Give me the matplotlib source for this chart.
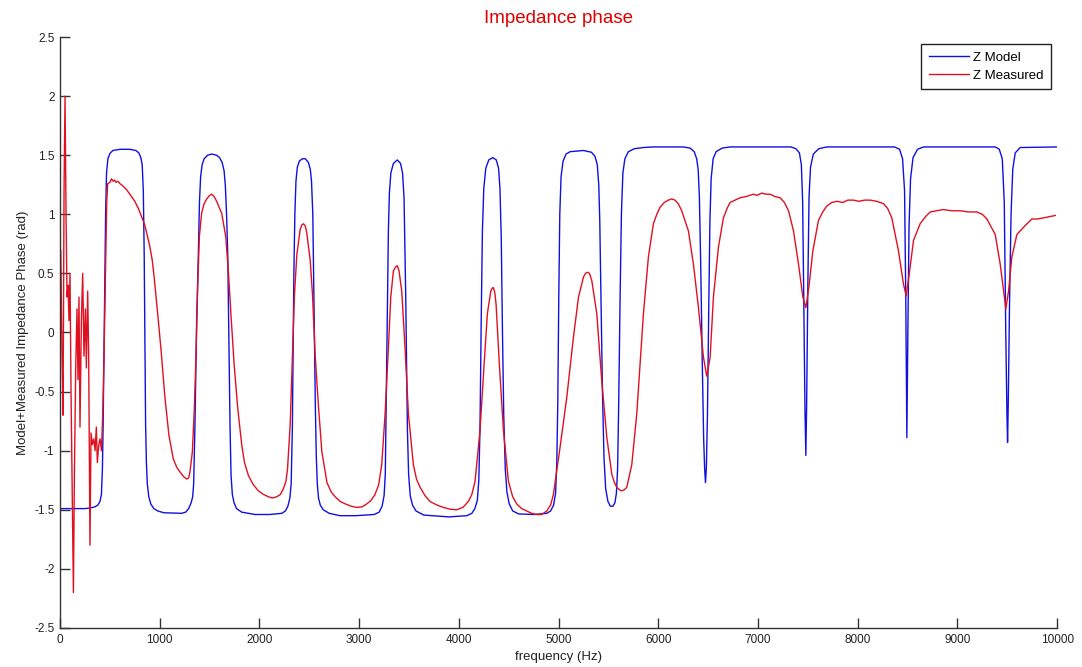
import matplotlib
matplotlib.use("Agg")
import matplotlib.pyplot as plt

# Z Model (blue)
model_freq = [0, 150, 250, 300, 350, 380, 400, 415, 425, 432, 440, 449, 457, 466, 480, 500, 530,
              600, 700, 760, 790, 810, 824, 835, 844, 858, 866, 875, 890, 910, 940, 980, 1040,
              1219, 1260, 1290, 1315, 1330, 1340, 1353, 1370, 1387, 1398, 1410, 1425, 1445,
              1480, 1521, 1570, 1600, 1625, 1645, 1658, 1670, 1682, 1695, 1705, 1715, 1728,
              1745, 1770, 1822, 1956, 2100, 2224, 2260, 2285, 2305, 2318, 2330, 2345, 2355,
              2366, 2380, 2400, 2430, 2460, 2490, 2510, 2522, 2535, 2548, 2560, 2570, 2580,
              2592, 2610, 2640, 2700, 2808, 2961, 3150, 3200, 3230, 3250, 3262, 3276, 3293,
              3303, 3318, 3343, 3383, 3415, 3435, 3450, 3467, 3484, 3496, 3512, 3535, 3570,
              3650, 3900, 4079, 4130, 4160, 4185, 4200, 4212, 4224, 4236, 4250, 4270, 4300,
              4340, 4375, 4398, 4412, 4425, 4437, 4450, 4465, 4482, 4505, 4540, 4600, 4750,
              4881, 4920, 4950, 4970, 4982, 4992, 5002, 5012, 5025, 5045, 5075, 5116, 5250,
              5330, 5365, 5388, 5403, 5413, 5425, 5440, 5455, 5472, 5495, 5520, 5545, 5565,
              5580, 5592, 5603, 5617, 5630, 5645, 5665, 5700, 5760, 5850, 5950, 6250, 6320,
              6360, 6385, 6400, 6412, 6425, 6440, 6455, 6465, 6473, 6482, 6493, 6506, 6518,
              6530, 6550, 6580, 6640, 6720, 7330, 7380, 7415, 7435, 7448, 7460, 7472, 7480,
              7488, 7500, 7512, 7527, 7555, 7610, 7690, 8370, 8420, 8450, 8470, 8482, 8493,
              8503, 8515, 8530, 8555, 8600, 8660, 9380, 9420, 9450, 9470, 9485, 9497, 9503,
              9510, 9522, 9538, 9555, 9580, 9630, 10000]
model_phase = [-1.49, -1.49, -1.49, -1.485, -1.475, -1.46, -1.43, -1.37, -1.15, -0.78, -0.2,
               0.38, 1.0, 1.35, 1.47, 1.515, 1.54, 1.55, 1.55, 1.54, 1.52, 1.48, 1.42, 1.2,
               0.66, -0.78, -1.1, -1.28, -1.39, -1.45, -1.49, -1.51, -1.525, -1.53, -1.52,
               -1.49, -1.44, -1.39, -1.28, -0.78, 0.09, 0.66, 1.1, 1.32, 1.42, 1.47, 1.50,
               1.51, 1.50, 1.48, 1.44, 1.37, 1.24, 1.0, 0.66, -0.2, -0.8, -1.21, -1.37, -1.44,
               -1.49, -1.52, -1.54, -1.54, -1.53, -1.51, -1.47, -1.40, -1.28, -0.8, 0.5, 1.0,
               1.28, 1.40, 1.45, 1.47, 1.47, 1.44, 1.38, 1.28, 1.0, 0.2, -0.6, -1.05, -1.28,
               -1.40, -1.46, -1.50, -1.53, -1.55, -1.55, -1.54, -1.52, -1.47, -1.38, -1.2,
               -0.27, 0.86, 1.18, 1.35, 1.43, 1.46, 1.43, 1.35, 1.14, 0.30, -0.83, -1.2, -1.38,
               -1.46, -1.51, -1.545, -1.56, -1.55, -1.53, -1.49, -1.42, -1.25, -0.8, 0.1, 0.86,
               1.22, 1.39, 1.46, 1.48, 1.46, 1.39, 1.22, 0.8, 0.02, -0.7, -1.15, -1.35, -1.45,
               -1.51, -1.535, -1.54, -1.53, -1.51, -1.46, -1.36, -1.1, -0.6, 0.30, 1.0, 1.32,
               1.45, 1.51, 1.53, 1.54, 1.525, 1.49, 1.42, 1.25, 0.95, 0.3, -0.5, -1.05, -1.32,
               -1.43, -1.47, -1.47, -1.44, -1.36, -1.15, -0.6, 0.30, 1.0, 1.35, 1.47, 1.53,
               1.555, 1.565, 1.57, 1.57, 1.56, 1.53, 1.47, 1.38, 1.15, 0.6, -0.2, -0.9, -1.15,
               -1.27, -1.15, -0.7, 0.2, 0.95, 1.3, 1.47, 1.53, 1.56, 1.57, 1.57, 1.555, 1.52,
               1.42, 1.1, 0.2, -0.7, -1.04, -0.6, 0.4, 1.15, 1.4, 1.51, 1.555, 1.57, 1.57,
               1.55, 1.47, 1.2, 0.3, -0.89, 0.0, 0.9, 1.3, 1.48, 1.55, 1.57, 1.57, 1.55, 1.47,
               1.1, 0.0, -0.7, -0.93, -0.6, 0.2, 1.0, 1.38, 1.52, 1.565, 1.57]

# Z Measured (red)
meas_freq = [0, 7, 20, 30, 40, 50, 60, 70, 80, 90, 100, 110, 124, 134, 144, 157, 170, 180,
             190, 200, 214, 227, 240, 254, 264, 277, 287, 300, 311, 324, 338, 351, 364, 374,
             388, 401, 415, 428, 441, 455, 468, 478, 500, 515, 533, 545, 560, 580, 600, 630,
             666, 700, 750, 785, 817, 850, 878, 900, 925, 945, 968, 990, 1012, 1052, 1092,
             1136, 1170, 1203, 1240, 1270, 1290, 1303, 1327, 1347, 1363, 1380, 1397, 1420,
             1445, 1471, 1500, 1521, 1545, 1571, 1600, 1621, 1662, 1688, 1715, 1745, 1782,
             1822, 1850, 1889, 1940, 1990, 2040, 2090, 2130, 2174, 2210, 2241, 2265, 2281,
             2308, 2331, 2351, 2375, 2408, 2425, 2442, 2460, 2475, 2509, 2532, 2559, 2593,
             2626, 2677, 2720, 2760, 2810, 2861, 2920, 2975, 3030, 3076, 3120, 3159, 3195,
             3226, 3260, 3293, 3317, 3343, 3365, 3383, 3400, 3427, 3460, 3494, 3544, 3575,
             3611, 3660, 3711, 3780, 3845, 3910, 3978, 4040, 4095, 4130, 4162, 4212, 4253,
             4286, 4320, 4335, 4346, 4360, 4373, 4406, 4447, 4497, 4540, 4580, 4630, 4681,
             4730, 4781, 4830, 4881, 4920, 4948, 4980, 5015, 5082, 5149, 5200, 5250, 5270,
             5290, 5310, 5333, 5383, 5433, 5484, 5534, 5560, 5584, 5610, 5634, 5660, 5684,
             5734, 5784, 5851, 5901, 5951, 5985, 6018, 6060, 6101, 6135, 6168, 6200, 6235,
             6302, 6352, 6403, 6453, 6486, 6520, 6553, 6603, 6653, 6690, 6720, 6770, 6820,
             6880, 6954, 6990, 7038, 7080, 7122, 7170, 7222, 7265, 7306, 7356, 7406, 7450,
             7480, 7510, 7550, 7607, 7650, 7690, 7740, 7791, 7850, 7900, 7958, 8010, 8070,
             8125, 8190, 8259, 8300, 8342, 8409, 8459, 8486, 8513, 8560, 8626, 8680, 8727,
             8790, 8860, 8940, 9028, 9110, 9195, 9250, 9296, 9379, 9429, 9463, 9486, 9513,
             9546, 9597, 9663, 9710, 9747, 9800, 9864, 9920, 9981]
meas_phase = [0.7, 0.7, -0.2, -0.7, 1.2, 2.0, 1.0, 0.3, 0.4, 0.1, 0.5, -0.5, -1.5, -2.2, -1.2,
              -0.3, 0.2, -0.4, 0.3, -0.8, 0.1, 0.5, -0.2, 0.2, -0.3, 0.35, -0.2, -1.8, -0.85,
              -0.95, -0.9, -1.0, -0.8, -1.1, -0.95, -0.9, -1.0, -0.7, -0.2, 0.5, 1.1, 1.26,
              1.27, 1.30, 1.28, 1.29, 1.27, 1.28, 1.26, 1.24, 1.21, 1.17, 1.11, 1.05, 0.98,
              0.91, 0.81, 0.73, 0.61, 0.46, 0.26, 0.06, -0.14, -0.55, -0.87, -1.07, -1.14,
              -1.18, -1.22, -1.24, -1.23, -1.18, -1.01, -0.64, -0.20, 0.38, 0.81, 1.01, 1.09,
              1.13, 1.16, 1.17, 1.15, 1.11, 1.05, 1.01, 0.81, 0.52, 0.14, -0.26, -0.64, -0.95,
              -1.10, -1.21, -1.29, -1.34, -1.37, -1.39, -1.40, -1.39, -1.37, -1.32, -1.26,
              -1.16, -0.78, -0.20, 0.32, 0.66, 0.87, 0.91, 0.92, 0.90, 0.84, 0.61, 0.32, -0.20,
              -0.64, -1.01, -1.27, -1.35, -1.39, -1.43, -1.45, -1.47, -1.48, -1.475, -1.45,
              -1.42, -1.37, -1.29, -1.12, -0.69, -0.13, 0.30, 0.52, 0.555, 0.565, 0.52, 0.35,
              -0.13, -0.69, -1.12, -1.24, -1.31, -1.38, -1.43, -1.46, -1.48, -1.495, -1.50,
              -1.48, -1.43, -1.37, -1.26, -0.83, -0.27, 0.16, 0.35, 0.375, 0.38, 0.34, 0.24,
              -0.27, -0.83, -1.26, -1.39, -1.45, -1.49, -1.51, -1.53, -1.54, -1.54, -1.51,
              -1.46, -1.37, -1.18, -0.97, -0.55, -0.04, 0.30, 0.47, 0.50, 0.51, 0.50, 0.44,
              0.16, -0.41, -0.89, -1.20, -1.27, -1.31, -1.33, -1.34, -1.33, -1.31, -1.12,
              -0.69, 0.16, 0.64, 0.92, 1.00, 1.06, 1.10, 1.12, 1.13, 1.12, 1.09, 1.03, 0.86,
              0.58, 0.21, -0.21, -0.37, -0.21, 0.30, 0.72, 0.97, 1.05, 1.10, 1.12, 1.14, 1.15,
              1.17, 1.16, 1.18, 1.17, 1.17, 1.15, 1.14, 1.10, 1.03, 0.86, 0.58, 0.30, 0.21,
              0.38, 0.69, 0.95, 1.02, 1.07, 1.10, 1.11, 1.10, 1.12, 1.12, 1.11, 1.12, 1.12,
              1.11, 1.09, 1.05, 0.97, 0.69, 0.41, 0.31, 0.47, 0.78, 0.92, 0.98, 1.02, 1.03,
              1.04, 1.03, 1.03, 1.02, 1.02, 1.00, 0.96, 0.83, 0.58, 0.35, 0.20, 0.35, 0.64,
              0.83, 0.89, 0.93, 0.96, 0.96, 0.97, 0.98, 0.99]

x_ticks = [0, 1000, 2000, 3000, 4000, 5000, 6000, 7000, 8000, 9000, 10000]
y_ticks = [-2.5, -2, -1.5, -1, -0.5, 0, 0.5, 1, 1.5, 2, 2.5]

plt.rcParams["font.family"] = ["Liberation Sans", "DejaVu Sans"]

fig = plt.figure(figsize=(10.82, 6.67), dpi=100)
ax = fig.add_axes([0.0555, 0.0585, 0.9215, 0.886])

ax.plot(model_freq, model_phase, color="#1010e0", lw=1.0, label="Z Model")
ax.plot(meas_freq, meas_phase, color="#e01020", lw=1.0, label="Z Measured")

ax.set_xlim(0, 10000)
ax.set_ylim(-2.5, 2.5)
ax.set_xticks(x_ticks)
ax.set_xticklabels([str(t) for t in x_ticks])
ax.set_yticks(y_ticks)
ax.set_yticklabels([f"{t:g}" for t in y_ticks])

for side in ["top", "right"]:
    ax.spines[side].set_visible(False)
for side in ["left", "bottom"]:
    ax.spines[side].set_color("#333333")
    ax.spines[side].set_linewidth(1.0)
ax.tick_params(direction="in", length=7, width=1, color="#333333",
               labelsize=8.5, labelcolor="#222222", pad=4)

ax.set_title("Impedance phase", color="#e00000", fontsize=13.5, pad=10)
ax.set_xlabel("frequency (Hz)", fontsize=9.5, color="#222222", labelpad=4)
ax.set_ylabel("Model+Measured Impedance Phase (rad)", fontsize=9.5, color="#222222",
              labelpad=4)

leg = ax.legend(loc="upper right", bbox_to_anchor=(0.994, 0.988), borderaxespad=0,
                fontsize=9.5, handlelength=3.1, handletextpad=0.3, fancybox=False,
                framealpha=1, edgecolor="#222222", borderpad=0.55, labelspacing=0.45)
leg.get_frame().set_linewidth(1.0)

fig.savefig("out.png", dpi=100)
